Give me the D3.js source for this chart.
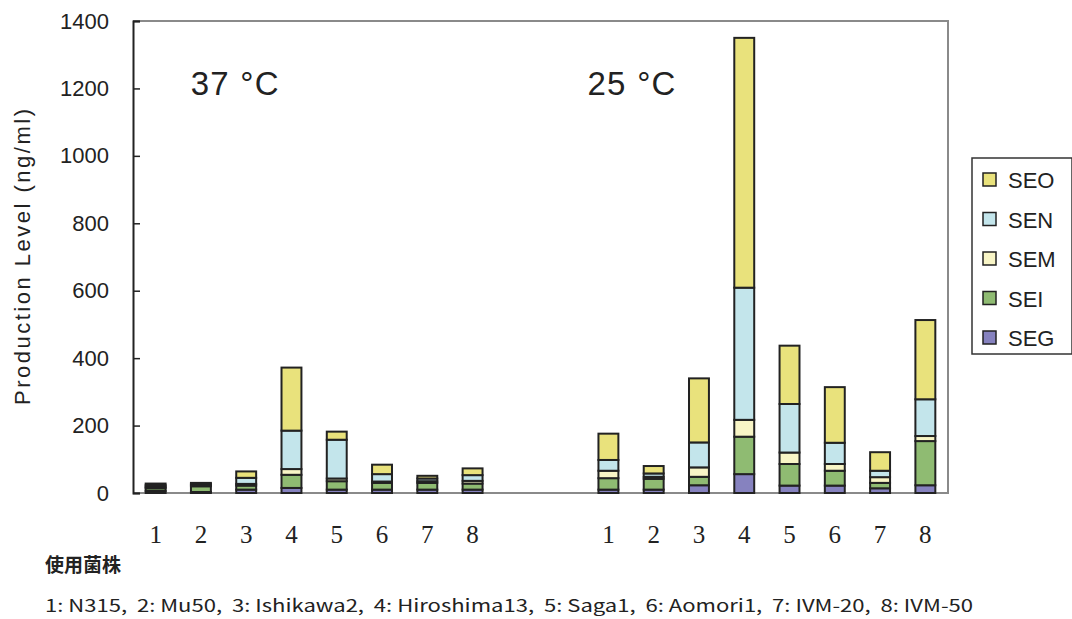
<!DOCTYPE html>
<html lang="ja">
  <head>
    <meta charset="UTF-8" />
    <title>Production Level</title>
    <style>
      body {
        margin: 0;
        background: #fff;
      }
      svg text {
        font-family: "Liberation Sans", Arial, sans-serif;
        fill: #222;
      }
    </style>
  </head>
  <body>
    <div id="chart"></div>
    <script src="https://cdnjs.cloudflare.com/ajax/libs/d3/7.8.5/d3.min.js"></script>
    <script>
      // data
      var strains = ["1", "2", "3", "4", "5", "6", "7", "8"];
      var temps = ["37 °C", "25 °C"];
      var toxins = ["SEG", "SEI", "SEM", "SEN", "SEO"];
      var yTicks = [0, 200, 400, 600, 800, 1000, 1200, 1400];
      var strainNames = "1: N315,  2: Mu50,  3: Ishikawa2,  4: Hiroshima13,  5: Saga1,  6: Aomori1,  7: IVM-20,  8: IVM-50";

      // 37 C
      var seg37 = [6, 3, 10, 15, 10, 10, 10, 10];
      var sei37 = [8, 17, 12, 39, 25, 20, 20, 18];
      var sem37 = [4, 3, 5, 17, 8, 4, 5, 8];
      var sen37 = [5, 4, 18, 114, 115, 22, 8, 17];
      var seo37 = [5, 3, 19, 187, 24, 28, 8, 20];
      // 25 C
      var seg25 = [10, 10, 23, 56, 22, 22, 14, 23];
      var sei25 = [34, 32, 25, 111, 64, 44, 16, 131];
      var sem25 = [22, 6, 28, 50, 34, 20, 17, 15];
      var sen25 = [32, 10, 74, 392, 144, 63, 19, 109];
      var seo25 = [78, 22, 190, 741, 173, 165, 55, 235];

      var colors = {
        SEG: "#8682bf",
        SEI: "#8fbb72",
        SEM: "#f8f5c6",
        SEN: "#c3e5eb",
        SEO: "#e9e27c",
      };

      var width = 1072,
        height = 619;
      var plot = { left: 133, right: 948, top: 21, bottom: 493 };

      // build rows: 8 strains, two empty slots, 8 strains
      var rows = [];
      strains.forEach(function (s, i) {
        rows.push({ key: "a" + s, label: s, SEG: seg37[i], SEI: sei37[i], SEM: sem37[i], SEN: sen37[i], SEO: seo37[i] });
      });
      var slots = rows.map(function (d) { return d.key; }).concat(["gap1", "gap2"]);
      strains.forEach(function (s, i) {
        rows.push({ key: "b" + s, label: s, SEG: seg25[i], SEI: sei25[i], SEM: sem25[i], SEN: sen25[i], SEO: seo25[i] });
        slots.push("b" + s);
      });

      var x = d3
        .scaleBand()
        .domain(slots)
        .range([plot.left, plot.right])
        .paddingInner(0.56)
        .paddingOuter(0.28);

      var y = d3.scaleLinear().domain([0, 1400]).range([plot.bottom, plot.top]);

      var svg = d3
        .select("#chart")
        .append("svg")
        .attr("width", width)
        .attr("height", height);

      // frame: grey top, right, bottom
      svg
        .append("path")
        .attr("d", "M" + plot.left + "," + plot.top + "H" + plot.right + "V" + plot.bottom + "H" + plot.left)
        .attr("fill", "none")
        .attr("stroke", "#8a8a8a")
        .attr("stroke-width", 2);

      // stacked bars
      var stack = d3.stack().keys(toxins)(rows);
      svg
        .append("g")
        .selectAll("g")
        .data(stack)
        .enter()
        .append("g")
        .attr("fill", function (d) { return colors[d.key]; })
        .selectAll("rect")
        .data(function (d) { return d; })
        .enter()
        .append("rect")
        .attr("x", function (d) { return x(d.data.key); })
        .attr("width", x.bandwidth())
        .attr("y", function (d) { return y(d[1]); })
        .attr("height", function (d) { return y(d[0]) - y(d[1]); })
        .attr("stroke", "#222")
        .attr("stroke-width", 2);

      // y axis
      var yAxis = svg
        .append("g")
        .attr("transform", "translate(" + plot.left + ",0)")
        .call(d3.axisLeft(y).tickValues(yTicks).tickFormat(d3.format("d")).tickSize(-7).tickPadding(24));
      yAxis.select(".domain").attr("stroke", "#222").attr("stroke-width", 2);
      yAxis.selectAll(".tick line").attr("stroke", "#222").attr("stroke-width", 1.5);
      yAxis
        .selectAll(".tick text")
        .style("font-size", "22px")
        .style("font-family", "Liberation Sans, Arial, sans-serif")
        .attr("fill", "#222");

      // x labels
      var xAxis = svg
        .append("g")
        .attr("transform", "translate(0," + plot.bottom + ")")
        .call(
          d3
            .axisBottom(x)
            .tickValues(rows.map(function (d) { return d.key; }))
            .tickFormat(function (k) { return k.slice(1); })
            .tickSize(0)
            .tickPadding(32)
        );
      xAxis.select(".domain").remove();
      xAxis
        .selectAll(".tick text")
        .style("font-size", "25px")
        .style("font-family", "Liberation Serif, Times New Roman, serif")
        .attr("fill", "#222");

      // y title
      svg
        .append("text")
        .attr("transform", "translate(30,257) rotate(-90)")
        .attr("text-anchor", "middle")
        .style("font-size", "22px")
        .attr("textLength", 296)
        .attr("lengthAdjust", "spacing")
        .text("Production Level (ng/ml)");

      // temperature labels
      svg
        .selectAll(".temp")
        .data(temps)
        .enter()
        .append("text")
        .attr("class", "temp")
        .attr("x", function (d, i) { return i === 0 ? x("a1") + 45 : x("b1") - 11; })
        .attr("y", 95)
        .style("font-size", "33px")
        .style("white-space", "pre")
        .attr("textLength", 88)
        .attr("lengthAdjust", "spacing")
        .text(function (d) { return d; });

      // legend
      var lg = svg.append("g").attr("transform", "translate(972,158)");
      lg.append("rect")
        .attr("width", 100)
        .attr("height", 196)
        .attr("fill", "#fff")
        .attr("stroke", "#333")
        .attr("stroke-width", 1.5);
      var items = lg
        .selectAll(".item")
        .data(toxins.slice().reverse())
        .enter()
        .append("g")
        .attr("class", "item")
        .attr("transform", function (d, i) { return "translate(0," + (22 + i * 39.5) + ")"; });
      items
        .append("rect")
        .attr("x", 11)
        .attr("y", -7)
        .attr("width", 13)
        .attr("height", 13)
        .attr("fill", function (d) { return colors[d]; })
        .attr("stroke", "#222")
        .attr("stroke-width", 1.5);
      items
        .append("text")
        .attr("x", 36)
        .attr("y", 8)
        .style("font-size", "22px")
        .text(function (d) { return d; });

      // notes below
      svg
        .append("text")
        .attr("x", 45)
        .attr("y", 572)
        .style("font-family", "Noto Sans CJK JP, sans-serif")
        .style("font-weight", "bold")
        .style("font-size", "19px")
        .text("使用菌株");
      svg
        .append("text")
        .attr("x", 45)
        .attr("y", 612)
        .style("font-family", "Noto Sans CJK JP, sans-serif")
        .style("font-size", "17px")
        .style("white-space", "pre")
        .attr("textLength", 928)
        .attr("lengthAdjust", "spacingAndGlyphs")
        .text(strainNames);
    </script>
  </body>
</html>
